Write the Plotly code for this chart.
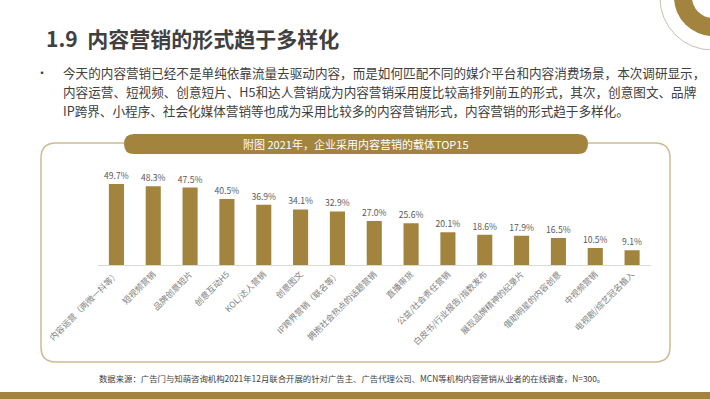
import plotly.graph_objects as go

categories = [
    "内容运营（两微一抖等）", "短视频营销", "品牌创意短片", "创意互动H5", "KOL/达人营销",
    "创意图文", "IP跨界营销（联名等）", "拥抱社会热点的话题营销", "直播带货", "公益/社会责任营销",
    "白皮书/行业报告/指数发布", "展现品牌精神的纪录片", "借助明星的内容创意", "中视频营销", "电视剧/综艺冠名植入",
]
values = [49.7, 48.3, 47.5, 40.5, 36.9, 34.1, 32.9, 27.0, 25.6, 20.1, 18.6, 17.9, 16.5, 10.5, 9.1]

title_text = "1.9  内容营销的形式趋于多样化"
bullet_lines = [
    "今天的内容营销已经不是单纯依靠流量去驱动内容，而是如何匹配不同的媒介平台和内容消费场景，本次调研显示，",
    "内容运营、短视频、创意短片、H5和达人营销成为内容营销采用度比较高排列前五的形式，其次，创意图文、品牌",
    "IP跨界、小程序、社会化媒体营销等也成为采用比较多的内容营销形式，内容营销的形式趋于多样化。",
]
chart_header = "附图 2021年，企业采用内容营销的载体TOP15"
source_text = "数据来源：广告门与知萌咨询机构2021年12月联合开展的针对广告主、广告代理公司、MCN等机构内容营销从业者的在线调查，N=300。"

W, H = 710, 399
GOLD = "#A3843F"
FONT = "Noto Sans CJK SC"


def px(x):
    return x / W


def py(y):
    return 1 - y / H


def rrect(x0, y0, x1, y1, r):
    rx, ry = r, r
    pts = [
        f"M{px(x0 + rx)},{py(y0)}",
        f"L{px(x1 - rx)},{py(y0)}",
        f"Q{px(x1)},{py(y0)} {px(x1)},{py(y0 + ry)}",
        f"L{px(x1)},{py(y1 - ry)}",
        f"Q{px(x1)},{py(y1)} {px(x1 - rx)},{py(y1)}",
        f"L{px(x0 + rx)},{py(y1)}",
        f"Q{px(x0)},{py(y1)} {px(x0)},{py(y1 - ry)}",
        f"L{px(x0)},{py(y0 + ry)}",
        f"Q{px(x0)},{py(y0)} {px(x0 + rx)},{py(y0)}",
        "Z",
    ]
    return " ".join(pts)


fig = go.Figure()
fig.add_trace(go.Bar(
    x=categories, y=values,
    marker=dict(color=GOLD, line=dict(width=0)),
    texttemplate="%{y:.1f}%", textposition="outside", constraintext="none",
    textfont=dict(size=8.6, color="#595959", family=FONT),
    cliponaxis=False, hoverinfo="skip",
))

y0_px, unit = 265, 81 / 49.7
ymax = 60
fig.update_layout(
    width=W, height=H, margin=dict(l=0, r=0, t=0, b=0),
    paper_bgcolor="white", plot_bgcolor="rgba(0,0,0,0)",
    showlegend=False, bargap=0.59,
    font=dict(family=FONT, color="#404040"),
    xaxis=dict(domain=[px(98), px(650.5)], showgrid=False, showline=True, linecolor="#D9D9D9",
               linewidth=1, ticks="", tickangle=-45, automargin=False,
               tickfont=dict(size=8.5, color="#808080", family=FONT), fixedrange=True),
    yaxis=dict(domain=[py(y0_px), py(y0_px - ymax * unit)], range=[0, ymax], visible=False,
               showgrid=False, zeroline=False, fixedrange=True),
)

shapes = []
# top-right decoration
shapes.append(dict(type="circle", xref="paper", yref="paper", x0=px(712 - 52), x1=px(712 + 52),
                   y0=py(-2 + 52), y1=py(-2 - 52), line=dict(color="#C8C0B0", width=1), fillcolor="rgba(0,0,0,0)"))
shapes.append(dict(type="circle", xref="paper", yref="paper", x0=px(713 - 39), x1=px(713 + 39),
                   y0=py(-3 + 39), y1=py(-3 - 39), line=dict(width=0), fillcolor=GOLD))
shapes.append(dict(type="circle", xref="paper", yref="paper", x0=px(713 - 21), x1=px(713 + 21),
                   y0=py(-3 + 21), y1=py(-3 - 21), line=dict(width=0), fillcolor="white"))
# panel
shapes.append(dict(type="path", xref="paper", yref="paper", path=rrect(41, 143, 670, 362, 15),
                   line=dict(color="#CDBB94", width=1.5), fillcolor="rgba(0,0,0,0)", layer="below"))
# header pill
shapes.append(dict(type="path", xref="paper", yref="paper", path=rrect(124, 134, 588, 154, 10),
                   line=dict(width=0), fillcolor=GOLD))
# bottom band
shapes.append(dict(type="rect", xref="paper", yref="paper", x0=0, x1=1, y0=py(399), y1=py(392),
                   line=dict(width=0), fillcolor=GOLD))
fig.update_layout(shapes=shapes)

ann = []
ann.append(dict(text=f"<b>{title_text}</b>", x=px(44), y=py(38), xanchor="left", yanchor="middle",
                font=dict(size=21, color="#404040", family=FONT)))
ann.append(dict(text="•", x=px(34), y=py(72), xanchor="left", yanchor="middle",
                font=dict(size=12, color="#404040", family=FONT)))
for i, line in enumerate(bullet_lines):
    ann.append(dict(text=line, x=px(61), y=py(72 + i * 19), xanchor="left", yanchor="middle",
                    font=dict(size=12.6, color="#404040", family=FONT)))
ann.append(dict(text=chart_header, x=px(356), y=py(144), xanchor="center", yanchor="middle",
                font=dict(size=11, color="white", family=FONT)))
ann.append(dict(text=source_text, x=px(352), y=py(378), xanchor="center", yanchor="middle",
                font=dict(size=8.4, color="#404040", family=FONT)))
for a in ann:
    a.update(xref="paper", yref="paper", showarrow=False)
fig.update_layout(annotations=ann)

fig.write_html("out.html", config={"displayModeBar": False, "staticPlot": True},
               post_script="document.body.style.margin='0';")
